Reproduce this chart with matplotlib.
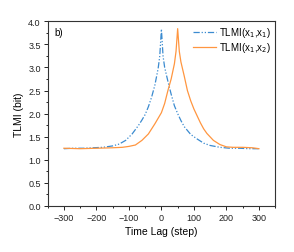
import matplotlib
matplotlib.use("Agg")
import matplotlib.pyplot as plt
from matplotlib.ticker import MultipleLocator

plt.rcParams['font.family'] = ['Liberation Sans', 'DejaVu Sans']

lag_11 = [-300, -270, -240, -210, -180, -150, -130, -110, -90, -70, -60, -50, -40, -30, -20, -10, -5, 0,
          5, 10, 20, 30, 40, 50, 60, 70, 90, 110, 130, 150, 180, 210, 240, 270, 300]
tlmi_11 = [1.24, 1.25, 1.25, 1.26, 1.27, 1.30, 1.34, 1.42, 1.56, 1.75, 1.86, 1.98, 2.15, 2.36, 2.62, 2.98, 3.25, 3.83,
           3.25, 3.00, 2.70, 2.42, 2.17, 2.00, 1.85, 1.72, 1.55, 1.45, 1.36, 1.31, 1.27, 1.25, 1.25, 1.24, 1.24]

lag_12 = [-300, -250, -200, -150, -120, -100, -80, -60, -40, -20, 0, 10, 20, 30, 40, 45, 50, 55, 60,
          70, 80, 90, 100, 110, 120, 130, 140, 160, 180, 200, 220, 250, 280, 300]
tlmi_12 = [1.25, 1.24, 1.25, 1.26, 1.27, 1.29, 1.32, 1.42, 1.56, 1.78, 2.02, 2.22, 2.50, 2.75, 3.08, 3.35, 3.84, 3.35, 3.12,
           2.82, 2.50, 2.28, 2.10, 1.95, 1.80, 1.67, 1.57, 1.42, 1.33, 1.28, 1.27, 1.27, 1.26, 1.24]

labels = ['TLMI(x$_1$,x$_1$)', 'TLMI(x$_1$,x$_2$)']

fig = plt.figure(figsize=(2.94, 2.53), dpi=100)
ax = fig.add_axes([0.162, 0.182, 0.774, 0.730])

ax.plot(lag_11, tlmi_11, color='#3b8bd0', lw=0.9, ls=(0, (5, 1.5, 1, 1.5, 1, 1.5)), label=labels[0])
ax.plot(lag_12, tlmi_12, color='#ff9640', lw=0.9, ls='-', label=labels[1])

ax.set_xlim(-350, 350)
ax.set_ylim(0, 4.0)
ax.xaxis.set_major_locator(MultipleLocator(100))
ax.xaxis.set_minor_locator(MultipleLocator(50))
ax.yaxis.set_major_locator(MultipleLocator(0.5))
ax.yaxis.set_minor_locator(MultipleLocator(0.25))
ax.tick_params(axis='both', which='major', direction='out', length=3, width=0.7, labelsize=6.5, pad=2, colors='#222222')
ax.tick_params(axis='both', which='minor', direction='out', length=1.7, width=0.6)
ax.tick_params(top=False, right=False, which='both')
for s in ax.spines.values():
    s.set_linewidth(0.8)
    s.set_color('#333333')

ax.set_xlabel('Time Lag (step)', fontsize=7.5, labelpad=3)
ax.set_ylabel('TLMI (bit)', fontsize=7.5, labelpad=3)
ax.text(0.03, 0.97, 'b)', transform=ax.transAxes, fontsize=7, va='top', ha='left')

ax.legend(loc='upper right', frameon=False, fontsize=7, handlelength=2.4, handletextpad=0.3,
          labelspacing=0.1, borderaxespad=0.1, borderpad=0.3)

fig.savefig('out.png', dpi=100)
